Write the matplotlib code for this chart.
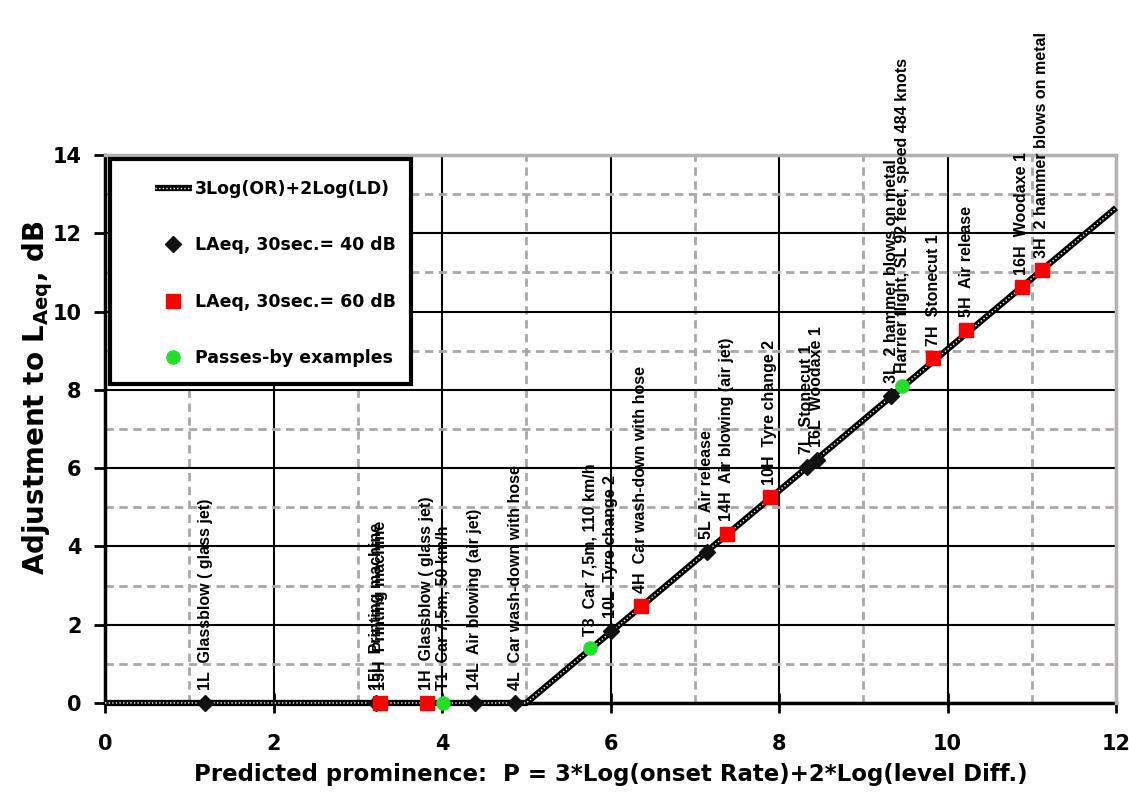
import matplotlib.pyplot as plt
from matplotlib.patches import Rectangle
from matplotlib.legend_handler import HandlerTuple

plt.rcParams['font.family'] = ['DejaVu Sans']
plt.rcParams['font.weight'] = 'bold'
plt.rcParams['mathtext.fontset'] = 'dejavusans'

# model curve 3Log(OR)+2Log(LD): flat up to P=5, then rising
curve_p = [0, 5, 12]
curve_adj = [0, 0, 12.65]

# sources measured at LAeq,30s = 40 dB
low_p = [1.19, 3.22, 4.39, 4.87, 6.00, 7.14, 8.33, 8.45, 9.33]
low_adj = [0, 0, 0, 0, 1.85, 3.86, 6.03, 6.22, 7.85]
low_lbl = ['1L  Glassblow ( glass jet)', '15L  Printing machine',
           '14L  Air blowing (air jet)', '4L  Car wash-down with hose',
           '10L  Tyre change 2', '5L  Air release', '7L  Stonecut 1',
           '16L  Woodaxe 1', '3L  2 hammer blows on metal']

# sources measured at LAeq,30s = 60 dB
high_p = [3.27, 3.82, 6.36, 7.38, 7.89, 9.83, 10.22, 10.88, 11.12]
high_adj = [0, 0, 2.48, 4.32, 5.26, 8.81, 9.53, 10.62, 11.05]
high_lbl = ['15H  Printing machine', '1H  Glassblow ( glass jet)',
            '4H  Car wash-down with hose', '14H  Air blowing (air jet)',
            '10H  Tyre change 2', '7H  Stonecut 1', '5H  Air release',
            '16H  Woodaxe 1', '3H  2 hammer blows on metal']

# pass-by events
pass_p = [4.01, 5.76, 9.46]
pass_adj = [0, 1.40, 8.10]
pass_lbl = ['T1  Car 7,5m, 50 km/h', 'T3  Car 7,5m, 110 km/h',
            'Harrier flight, SL 92 feet, speed 484 knots']

fig = plt.figure(figsize=(11.29, 7.92), dpi=100)
ax = fig.add_axes([0.093, 0.1124, 0.8955, 0.6919])

ax.set_xlim(0, 12)
ax.set_ylim(0, 14)
ax.set_xticks(range(0, 13, 2))
ax.set_yticks(range(0, 15, 2))
ax.set_xticks(range(1, 12, 2), minor=True)
ax.set_yticks(range(1, 14, 2), minor=True)
ax.set_axisbelow(True)
ax.grid(which='major', color='black', lw=1.5)
ax.grid(which='minor', color='#aaa6aa', lw=2, ls=(0, (3, 2)))
ax.tick_params(which='minor', length=0)
ax.tick_params(axis='x', which='major', direction='inout', length=14, width=2,
               labelsize=15, pad=15)
ax.tick_params(axis='y', which='major', direction='out', length=8, width=2,
               labelsize=15, pad=9)
for s in ['left', 'bottom']:
    ax.spines[s].set_linewidth(2.5)
for s in ['top', 'right']:
    ax.spines[s].set_color('#b4b0b4')
    ax.spines[s].set_linewidth(2.5)
    ax.spines[s].set_zorder(3)
for lbl in ax.get_xticklabels() + ax.get_yticklabels():
    lbl.set_fontweight('bold')

# patterned curve: black band with a white dotted core
base, = ax.plot(curve_p, curve_adj, color='black', lw=4.5, zorder=4,
                solid_capstyle='butt', clip_on=False)
core, = ax.plot(curve_p, curve_adj, color='white', lw=1, zorder=4,
                dashes=(1, 1.6), clip_on=False)

d, = ax.plot(low_p, low_adj, 'D', color='#111111', ms=8, zorder=5,
             clip_on=False, ls='none')
sq, = ax.plot(high_p, high_adj, 's', color='#ff0000', ms=10, zorder=6,
              clip_on=False, ls='none')
ci, = ax.plot(pass_p, pass_adj, 'o', color='#22e02a', ms=9.5, zorder=6,
              clip_on=False, ls='none')

for xs, ys, names in [(low_p, low_adj, low_lbl), (high_p, high_adj, high_lbl),
                      (pass_p, pass_adj, pass_lbl)]:
    for x, y, name in zip(xs, ys, names):
        ax.annotate(name, (x, y), xytext=(0, 9), textcoords='offset points',
                    rotation=90, ha='center', va='bottom', fontsize=11.5,
                    fontweight='bold', family='Liberation Sans', zorder=7,
                    annotation_clip=False)

ax.add_patch(Rectangle((0.005, 0.582), 0.298, 0.41, transform=ax.transAxes,
                       facecolor='white', edgecolor='black', lw=3, zorder=8))
leg = ax.legend([(base, core), d, sq, ci],
                ['3Log(OR)+2Log(LD)', 'LAeq, 30sec.= 40 dB',
                 'LAeq, 30sec.= 60 dB', 'Passes-by examples'],
                handler_map={tuple: HandlerTuple(ndivide=1)},
                loc='upper left', bbox_to_anchor=(0.0495, 0.954),
                borderaxespad=0, borderpad=0, frameon=False,
                labelspacing=2.2, handlelength=2.1, handletextpad=0.2,
                prop={'weight': 'bold', 'size': 12.5})
leg.set_zorder(9)

ax.set_xlabel('Predicted prominence:  P = 3*Log(onset Rate)+2*Log(level Diff.)',
              fontsize=16.5, fontweight='bold', va='center')
ax.xaxis.set_label_coords(0.5, -0.131)
ax.set_ylabel('Adjustment to L$_{\\mathbf{Aeq}}$, dB', fontsize=20,
              fontweight='bold', va='center')
ax.yaxis.set_label_coords(-0.067, 0.558)

fig.savefig('out.png', dpi=100)
